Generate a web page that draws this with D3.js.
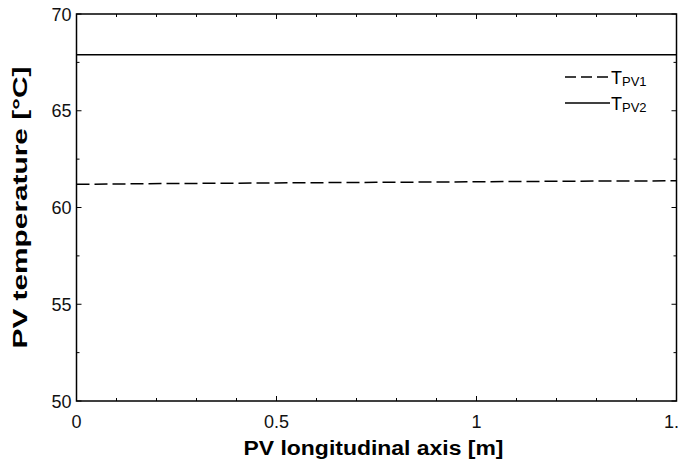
<!DOCTYPE html>
<html>
  <head>
    <meta charset="utf-8">
    <title>PV temperature</title>
    <style>
      body{ margin: 0; background: #fff; }
      svg{ display: block; font-family: "Liberation Sans", Arial, sans-serif; }
      .tick-label{ font-size: 18px; fill: #111; }
      .title{ font-size: 20px; font-weight: bold; fill: #000; }
    </style>
  </head>
  <body>
  <script src="https://d3js.org/d3.v7.min.js"></script>
  <script>
const width = 679;
const height = 462;

// data
const positions = [0, 0.25, 0.5, 0.75, 1.0, 1.25, 1.5];
const tpv1 = [61.2, 61.24, 61.27, 61.3, 61.33, 61.36, 61.38];
const tpv2 = [67.9, 67.9, 67.9, 67.9, 67.9, 67.9, 67.9];
const xTicks = [0, 0.5, 1, 1.5];
const yTicks = [50, 55, 60, 65, 70];

const margin = {left: 76.5, right: 2.5, top: 14, bottom: 61};
const x = d3.scaleLinear().domain([0, 1.5]).range([margin.left, width - margin.right]);
const y = d3.scaleLinear().domain([50, 70]).range([height - margin.bottom, margin.top]);

const svg = d3.select('body').append('svg')
  .attr('width', width)
  .attr('height', height);

// ticks, all pointing inward
const xMinor = d3.range(0, 1.5001, 0.1);
const yMinor = d3.range(50, 70.001, 2.5);
const tickG = svg.append('g').attr('stroke', '#000').attr('stroke-width', 1);
xMinor.forEach((v) => {
  const major = xTicks.some((t) => Math.abs(t - v) < 1e-6);
  const len = major ? 5 : 3;
  tickG.append('line').attr('x1', x(v)).attr('x2', x(v))
    .attr('y1', y(50)).attr('y2', y(50) - len);
  tickG.append('line').attr('x1', x(v)).attr('x2', x(v))
    .attr('y1', y(70)).attr('y2', y(70) + len);
});
yMinor.forEach((v) => {
  const major = yTicks.includes(v);
  const len = major ? 5 : 3;
  tickG.append('line').attr('x1', x(0)).attr('x2', x(0) + len)
    .attr('y1', y(v)).attr('y2', y(v));
  tickG.append('line').attr('x1', x(1.5)).attr('x2', x(1.5) - len)
    .attr('y1', y(v)).attr('y2', y(v));
});

// frame
svg.append('rect')
  .attr('x', x(0)).attr('y', y(70))
  .attr('width', x(1.5) - x(0)).attr('height', y(50) - y(70))
  .attr('fill', 'none').attr('stroke', '#000').attr('stroke-width', 1.5);

// tick labels (the last x label runs off the right edge, as in the original)
svg.append('g').selectAll('text').data(xTicks).join('text')
  .attr('class', 'tick-label')
  .attr('x', (d) => x(d)).attr('y', y(50) + 27)
  .attr('text-anchor', 'middle')
  .text((d) => d3.format('')(d));

svg.append('g').selectAll('text').data(yTicks).join('text')
  .attr('class', 'tick-label')
  .attr('x', x(0) - 5).attr('y', (d) => y(d) + 6.5)
  .attr('text-anchor', 'end')
  .text((d) => d);

// series
const line = d3.line()
  .x((d, i) => x(positions[i]))
  .y((d) => y(d));

svg.append('path').datum(tpv1)
  .attr('d', line)
  .attr('fill', 'none').attr('stroke', '#000').attr('stroke-width', 1.5)
  .attr('stroke-dasharray', '13,5');

svg.append('path').datum(tpv2)
  .attr('d', line)
  .attr('fill', 'none').attr('stroke', '#000').attr('stroke-width', 1.5);

// legend
const legend = [
  {sub: 'PV1', dash: '11,5'},
  {sub: 'PV2', dash: null}
];
const lg = svg.append('g').attr('transform', 'translate(565,77)');
legend.forEach((d, i) => {
  const row = lg.append('g').attr('transform', `translate(0,${i * 26})`);
  row.append('line').attr('x1', 0).attr('x2', 45).attr('y1', 0).attr('y2', 0)
    .attr('stroke', '#000').attr('stroke-width', 1.5)
    .attr('stroke-dasharray', d.dash);
  const t = row.append('text').attr('x', 46).attr('y', 7)
    .style('font-size', '18px').attr('fill', '#000');
  t.append('tspan').text('T');
  t.append('tspan').attr('dy', 2).style('font-size', '13px').text(d.sub);
});

// axis titles
svg.append('text').attr('class', 'title')
  .attr('x', (x(0) + x(1.5)) / 2 - 3).attr('y', 455)
  .attr('text-anchor', 'middle')
  .attr('textLength', 260).attr('lengthAdjust', 'spacingAndGlyphs')
  .text('PV longitudinal axis [m]');

svg.append('text').attr('class', 'title')
  .style('font-size', '21px')
  .attr('transform', `translate(27,${(y(50) + y(70)) / 2}) rotate(-90)`)
  .attr('text-anchor', 'middle')
  .attr('textLength', 282).attr('lengthAdjust', 'spacingAndGlyphs')
  .text('PV temperature [°C]');
  </script>
  </body>
</html>
